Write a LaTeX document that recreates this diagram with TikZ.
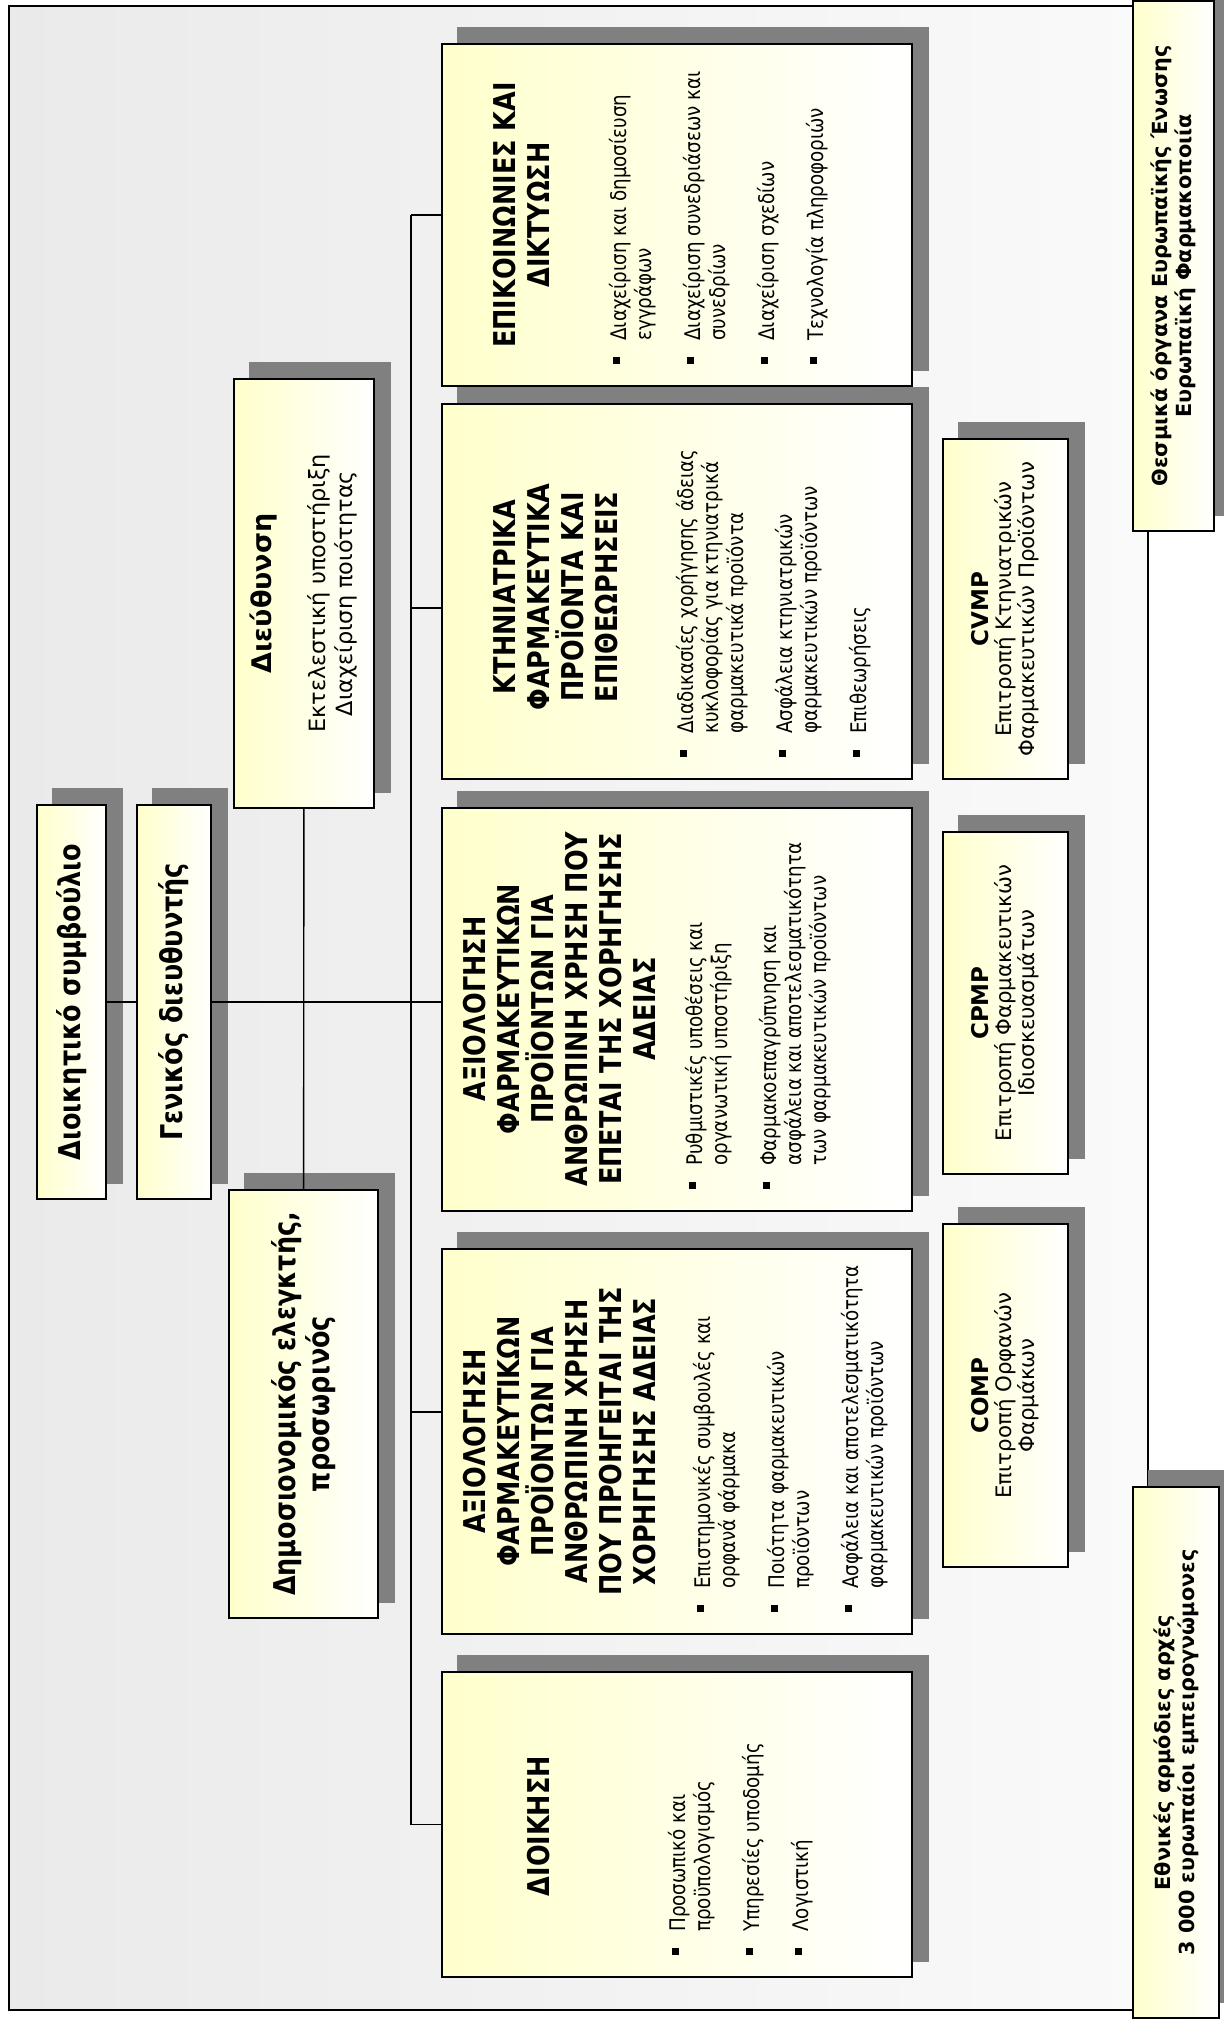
\documentclass[tikz,border=0pt]{standalone}
\usepackage{fontspec}
\setmainfont{DejaVu Sans}
\newfontfamily\narrowfont[FakeStretch=0.85]{DejaVu Sans}
\usetikzlibrary{calc}

\definecolor{boxyel}{RGB}{255,255,204}
\definecolor{shadowgray}{RGB}{128,128,128}
\definecolor{bgleft}{RGB}{234,234,234}
\definecolor{bgright}{RGB}{250,250,250}
\pgfdeclarelayer{background}
\pgfsetlayers{background,main}
\newcommand{\sqb}{\rule[3pt]{3.5pt}{3.5pt}}

\begin{document}
\begin{tikzpicture}[x=0.5pt, y=-0.5pt,
        orgbox/.style={draw, line width=0.9pt, rotate=90, inner sep=0pt, align=center,
            left color=boxyel, right color=white},
        headfont/.style={font=\narrowfont\bfseries\fontsize{15}{17}\selectfont},
        ttl/.style={rotate=90, inner sep=0pt, align=center, anchor=north, headfont},
        lst/.style={rotate=90, inner sep=0pt, anchor=base west,
            font=\narrowfont\fontsize{10.75}{12.5}\selectfont},
        cmt/.style={orgbox, minimum height=62.5pt, font=\fontsize{10.65}{11.5}\selectfont},
        link/.style={line width=0.7pt}]
    \useasboundingbox (0,0) rectangle (1223,2022);
    \begin{pgfonlayer}{background}
        \draw[line width=0.7pt, left color=bgleft, right color=bgright] (9,6) rectangle (1148,2010);
    \end{pgfonlayer}

    % outside the agency
    \node[orgbox, minimum width=265pt, minimum height=40.5pt, font=\bfseries\fontsize{10.4}{12}\selectfont]
        (inst) at (1173.5,266) {Θεσμικά όργανα Ευρωπαϊκής Ένωσης\\Ευρωπαϊκή Φαρμακοποιία};
    \node[orgbox, minimum width=265.5pt, minimum height=43pt, font=\bfseries\fontsize{10.4}{12}\selectfont]
        (nat) at (1176,1752.5) {Εθνικές αρμόδιες αρχές\\3 000 ευρωπαίοι εμπειρογνώμονες};

    % management
    \node[orgbox, headfont, minimum width=197pt, minimum height=34.5pt] (board) at (71.5,1002) {Διοικητικό συμβούλιο};
    \node[orgbox, headfont, minimum width=197pt, minimum height=37pt] (gd) at (174,1002) {Γενικός διευθυντής};
    \node[orgbox, minimum width=214.5pt, minimum height=70pt, font=\fontsize{11.2}{13.5}\selectfont]
        (dir) at (304,593.5) {{\bfseries\fontsize{13.5}{13.5}\selectfont Διεύθυνση}\\[13.5pt]Εκτελεστική υποστήριξη\\Διαχείριση ποιότητας};
    \node[orgbox, headfont, minimum width=214pt, minimum height=74.5pt] (fin) at (303.5,1404) {Δημοσιονομικός ελεγκτής,\\προσωρινός};

    % units
    \node[orgbox, minimum width=171pt, minimum height=235pt] (comm) at (677,215) {};
    \node[orgbox, minimum width=187.5pt, minimum height=235pt] (vet) at (677,591.5) {};
    \node[orgbox, minimum width=201.5pt, minimum height=235pt] (post) at (677,1009.5) {};
    \node[orgbox, minimum width=192.5pt, minimum height=235pt] (pre) at (677,1441.5) {};
    \node[orgbox, minimum width=152.5pt, minimum height=235pt] (adm) at (677,1824.5) {};

    \node[ttl] (commT) at (493,215) {ΕΠΙΚΟΙΝΩΝΙΕΣ ΚΑΙ\\ΔΙΚΤΥΩΣΗ};
    \node[ttl] (vetT) at (493,597) {ΚΤΗΝΙΑΤΡΙΚΑ\\ΦΑΡΜΑΚΕΥΤΙΚΑ\\ΠΡΟΪΟΝΤΑ ΚΑΙ\\ΕΠΙΘΕΩΡΗΣΕΙΣ};
    \node[ttl] (postT) at (463,1009) {ΑΞΙΟΛΟΓΗΣΗ\\ΦΑΡΜΑΚΕΥΤΙΚΩΝ\\ΠΡΟΪΟΝΤΩΝ ΓΙΑ\\ΑΝΘΡΩΠΙΝΗ ΧΡΗΣΗ ΠΟΥ\\ΕΠΕΤΑΙ ΤΗΣ ΧΟΡΗΓΗΣΗΣ\\ΑΔΕΙΑΣ};
    \node[ttl] (preT) at (463,1441.5) {ΑΞΙΟΛΟΓΗΣΗ\\ΦΑΡΜΑΚΕΥΤΙΚΩΝ\\ΠΡΟΪΟΝΤΩΝ ΓΙΑ\\ΑΝΘΡΩΠΙΝΗ ΧΡΗΣΗ\\ΠΟΥ ΠΡΟΗΓΕΙΤΑΙ ΤΗΣ\\ΧΟΡΗΓΗΣΗΣ ΑΔΕΙΑΣ};
    \node[ttl] (admT) at (527,1826) {ΔΙΟΙΚΗΣΗ};

    \node[lst] (commL) at (626,364) {\begin{tabular}[t]{@{}l@{\hspace{8pt}}l@{}}
        \sqb & Διαχείριση και δημοσίευση\\ & εγγράφων\\[12pt]
        \sqb & Διαχείριση συνεδριάσεων και\\ & συνεδρίων\\[12pt]
        \sqb & Διαχείριση σχεδίων\\[12pt]
        \sqb & Τεχνολογία πληροφοριών
    \end{tabular}};
    \node[lst] (vetL) at (693,757) {\begin{tabular}[t]{@{}l@{\hspace{8pt}}l@{}}
        \sqb & Διαδικασίες χορήγησης άδειας\\ & κυκλοφορίας για κτηνιατρικά\\ & φαρμακευτικά προϊόντα\\[12pt]
        \sqb & Ασφάλεια κτηνιατρικών\\ & φαρμακευτικών προϊόντων\\[12pt]
        \sqb & Επιθεωρήσεις
    \end{tabular}};
    \node[lst] (postL) at (702,1189) {\begin{tabular}[t]{@{}l@{\hspace{8pt}}l@{}}
        \sqb & Ρυθμιστικές υποθέσεις και\\ & οργανωτική υποστήριξη\\[12pt]
        \sqb & Φαρμακοεπαγρύπνηση και\\ & ασφάλεια και αποτελεσματικότητα\\ & των φαρμακευτικών προϊόντων
    \end{tabular}};
    \node[lst] (preL) at (710,1612) {\begin{tabular}[t]{@{}l@{\hspace{8pt}}l@{}}
        \sqb & Επιστημονικές συμβουλές και\\ & ορφανά φάρμακα\\[12pt]
        \sqb & Ποιότητα φαρμακευτικών\\ & προϊόντων\\[12pt]
        \sqb & Ασφάλεια και αποτελεσματικότητα\\ & φαρμακευτικών προϊόντων
    \end{tabular}};
    \node[lst] (admL) at (685,1955) {\begin{tabular}[t]{@{}l@{\hspace{8pt}}l@{}}
        \sqb & Προσωπικό και\\ & προϋπολογισμός\\[12pt]
        \sqb & Υπηρεσίες υποδομής\\[12pt]
        \sqb & Λογιστική
    \end{tabular}};

    % committees
    \node[cmt, minimum width=170pt] (cvmp) at (1005.5,609) {{\bfseries\fontsize{11.5}{11.5}\selectfont CVMP}\\Επιτροπή Κτηνιατρικών\\Φαρμακευτικών Προϊόντων};
    \node[cmt, minimum width=171pt] (cpmp) at (1005.5,1003) {{\bfseries\fontsize{11.5}{11.5}\selectfont CPMP}\\Επιτροπή Φαρμακευτικών\\Ιδιοσκευασμάτων};
    \node[cmt, minimum width=171.5pt] (comp) at (1005.5,1395.5) {{\bfseries\fontsize{11.5}{11.5}\selectfont COMP}\\Επιτροπή Ορφανών\\Φαρμάκων};

    % connectors
    \coordinate (bus) at (411,0);
    \coordinate (vettie) at (411,608);
    \coordinate (pretie) at (411,1412);
    \draw[link] (board) -- (gd);
    \draw[link] (gd) -- (gd -| post.north);
    \draw[link] (dir) -- (fin);
    \draw[link] (bus |- comm.north) -- (bus |- adm.north);
    \foreach \u in {comm,adm}
        \draw[link] (bus |- \u.north) -- (\u.north);
    \draw[link] (vettie) -- (vettie -| vet.north);
    \draw[link] (pretie) -- (pretie -| pre.north);

    \begin{pgfonlayer}{background}
        \foreach \b in {inst,nat,board,gd,dir,fin,comm,vet,post,pre,adm,cvmp,cpmp,comp}
            \fill[shadowgray] ($(\b.south west)+(16,-16)$) rectangle ($(\b.north east)+(16,-16)$);
    \end{pgfonlayer}
\end{tikzpicture}
\end{document}
